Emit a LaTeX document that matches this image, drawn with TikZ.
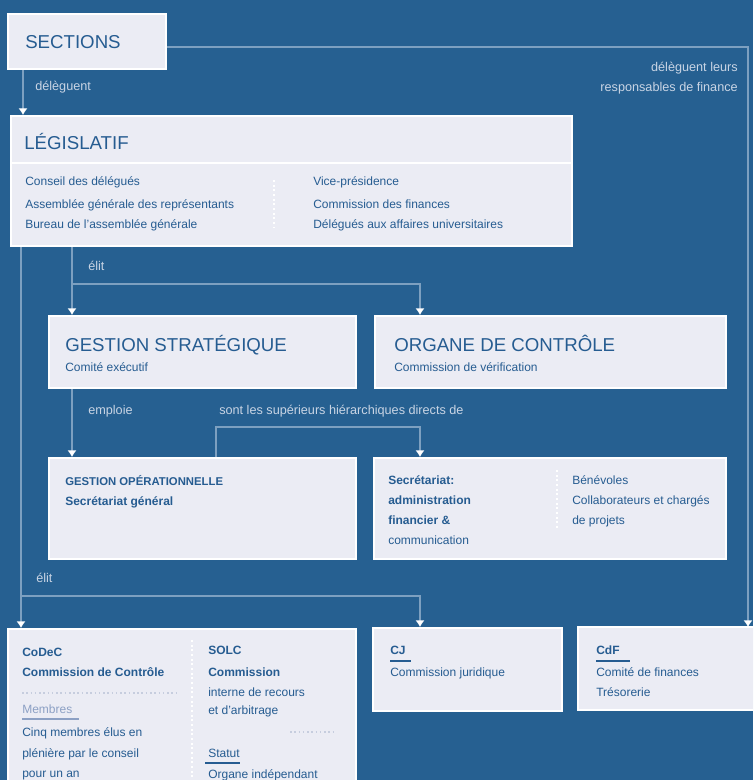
\documentclass[tikz,border=0pt]{standalone}
\usepackage{fontspec}
\setmainfont{Liberation Sans}
\usetikzlibrary{arrows.meta}
\definecolor{bgblue}{RGB}{38,96,145}
\definecolor{boxfill}{RGB}{235,236,244}
\definecolor{linkblue}{RGB}{125,160,192}
\definecolor{labelgray}{RGB}{200,212,228}
\definecolor{inkblue}{RGB}{38,92,145}
\definecolor{softink}{RGB}{140,160,196}
\definecolor{faintdot}{RGB}{198,205,222}

\tikzset{
  box/.style={draw=white,line width=1.6pt,fill=boxfill,anchor=north west,inner sep=0pt},
  link/.style={draw=linkblue,line width=2pt},
  arrowlink/.style={link,-{Latex[white,length=5pt,width=7pt]}},
  title/.style={anchor=base west,inner sep=0pt,text=inkblue,font=\fontsize{14}{16}\selectfont},
  body/.style={anchor=base west,inner sep=0pt,text=inkblue,font=\fontsize{9}{11}\selectfont},
  bodybold/.style={body,font=\fontsize{9}{11}\selectfont\bfseries},
  flow/.style={anchor=base west,inner sep=0pt,text=labelgray,font=\fontsize{9.5}{11}\selectfont},
  colsep/.style={white,line width=1.5pt,dotted},
  rowsep/.style={faintdot,line width=1.2pt,dotted},
  underl/.style={inkblue,line width=1.5pt},
}

\begin{document}
\begin{tikzpicture}[x=0.75pt,y=-0.75pt]
\fill[bgblue] (0,0) rectangle (753,780);
\useasboundingbox (0,0) rectangle (753,780);
\clip (0,0) rectangle (753,780);

% the boxes
\node[box,minimum width=118.5pt,minimum height=41.25pt] (sections) at (7,13) {};
\node[box,minimum width=420.75pt,minimum height=97.5pt] (legis) at (10,115) {};
\node[box,minimum width=230.25pt,minimum height=54pt] (strat) at (48,315) {};
\node[box,minimum width=263.25pt,minimum height=54pt] (ctrl) at (374,315) {};
\node[box,minimum width=230.25pt,minimum height=75.75pt] (oper) at (48,457) {};
\node[box,minimum width=264pt,minimum height=75.75pt] (secr) at (373,457) {};
\node[box,minimum width=261pt,minimum height=129pt] (codec) at (7,628) {};
\node[box,minimum width=141.75pt,minimum height=62.25pt] (cj) at (372,627) {};
% runs off the right edge
\draw[white,line width=1.6pt,fill=boxfill] (578,627) rectangle (790,710);
\coordinate (cdf) at (578,627);

\coordinate (hdr) at (0,163);
\draw[white,line width=1.6pt] (legis.west |- hdr) -- (legis.east |- hdr);

% connectors
\coordinate (s1) at ([xshift=12pt]sections.south west);
\draw[arrowlink] (s1) -- (s1 |- legis.north);

\coordinate (rc) at (748,47);
\draw[arrowlink] (sections.east |- rc) -- (rc) -- (rc |- cdf);

\coordinate (split) at (0,284);
\coordinate (e1) at ([xshift=18pt]strat.north west);
\coordinate (e2) at ([xshift=34.5pt]ctrl.north west);
\draw[arrowlink] (e1 |- legis.south) -- (e1);
\draw[arrowlink] (e1 |- split) -| (e2);

\coordinate (split2) at (0,596);
\coordinate (l1) at ([xshift=10.5pt]codec.north west);
\coordinate (l2) at ([xshift=36pt]cj.north west);
\draw[arrowlink] (l1 |- legis.south) -- (l1);
\draw[arrowlink] (l1 |- split2) -| (l2);

\coordinate (o1) at ([xshift=18pt]oper.north west);
\draw[arrowlink] (o1 |- strat.south) -- (o1);

\coordinate (split3) at (0,427);
\coordinate (o2) at ([xshift=126pt]oper.north west);
\coordinate (s2) at ([xshift=35.25pt]secr.north west);
\draw[arrowlink] (o2) -- (o2 |- split3) -| (s2);

% connector labels
\node[flow] (lb-del) at (35,91) {délèguent};
\node[flow,anchor=base east] (lb-fin1) at (738,72) {délèguent leurs};
\node[flow,anchor=base east] (lb-fin2) at (738,92) {responsables de finance};
\node[flow] (lb-elit1) at (88,271) {élit};
\node[flow] (lb-empl) at (88,414) {emploie};
\node[flow] (lb-sup) at (219,414) {sont les supérieurs hiérarchiques directs de};
\node[flow] (lb-elit2) at (36,582) {élit};

% sections and legislatif
\node[title] (t-sections) at (25,49) {SECTIONS};
\node[title] (t-legis) at (24,150) {LÉGISLATIF};
\node[body] (lg1) at (25,186) {Conseil des délégués};
\node[body] (lg2) at (25,209) {Assemblée générale des représentants};
\node[body] (lg3) at (25,229) {Bureau de l'assemblée générale};
\node[body] (lg4) at (313,186) {Vice-présidence};
\node[body] (lg5) at (313,209) {Commission des finances};
\node[body] (lg6) at (313,229) {Délégués aux affaires universitaires};
\draw[colsep] (274,180) -- (274,228);

% strategie and controle
\node[title] (t-strat) at (65,351) {GESTION STRATÉGIQUE};
\node[body] (st1) at (65,371) {Comité exécutif};
\node[title] (t-ctrl) at (394,351) {ORGANE DE CONTRÔLE};
\node[body] (ct1) at (394,371) {Commission de vérification};

% operationnel
\node[bodybold,font=\fontsize{8.5}{10}\selectfont\bfseries] (t-oper) at (65,485) {GESTION OPÉRATIONNELLE};
\node[bodybold] (op1) at (65,505) {Secrétariat général};
\node[bodybold] (sc1) at (388,484) {Secrétariat:};
\node[bodybold] (sc2) at (388,504) {administration};
\node[bodybold] (sc3) at (388,524) {financier \&};
\node[body] (sc4) at (388,544) {communication};
\node[body] (sc5) at (572,484) {Bénévoles};
\node[body] (sc6) at (572,504) {Collaborateurs et chargés};
\node[body] (sc7) at (572,524) {de projets};
\draw[colsep] (557,470) -- (557,530);

% commissions
\node[bodybold] (cd1) at (22,656) {CoDeC};
\node[bodybold] (cd2) at (22,676) {Commission de Contrôle};
\draw[rowsep] (22,693) -- (178,693);
\node[body,text=softink] (cd3) at (22,713) {Membres};
\draw[softink,line width=1.5pt] (22,719) -- (79,719);
\node[body] (cd4) at (22,736) {Cinq membres élus en};
\node[body] (cd5) at (22,757) {plénière par le conseil};
\node[body] (cd6) at (22,777) {pour un an};
\node[bodybold] (cd7) at (208,654) {SOLC};
\node[bodybold] (cd8) at (208,676) {Commission};
\node[body] (cd9) at (208,696) {interne de recours};
\node[body] (cd10) at (208,714) {et d'arbitrage};
\draw[rowsep] (290,732) -- (333,732);
\node[body] (cd11) at (208,757) {Statut};
\draw[underl] (205,763) -- (240,763);
\node[body] (cd12) at (208,778) {Organe indépendant};
\draw[colsep] (192,640) -- (192,780);

\node[bodybold] (cj1) at (390,654) {CJ};
\draw[underl] (390,661) -- (411,661);
\node[body] (cj2) at (390,676) {Commission juridique};

\node[bodybold] (cf1) at (596,654) {CdF};
\draw[underl] (596,661) -- (630,661);
\node[body] (cf2) at (596,676) {Comité de finances};
\node[body] (cf3) at (596,696) {Trésorerie};

\end{tikzpicture}
\end{document}
